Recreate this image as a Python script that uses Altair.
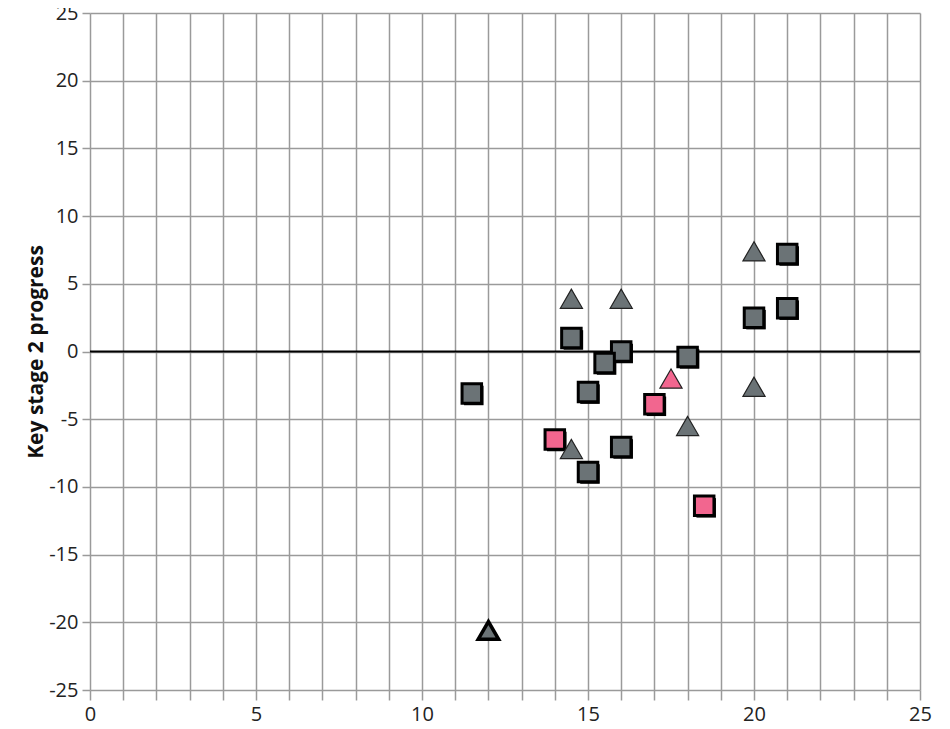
import altair as alt
import pandas as pd

# gray squares
sq_gray_x = [11.5, 14.5, 16.0, 15.5, 15.0, 15.0, 16.0, 18.0, 20.0, 21.0, 21.0]
sq_gray_y = [-3.1, 1.0, 0.0, -0.85, -3.0, -8.9, -7.05, -0.4, 2.5, 7.2, 3.2]
# pink squares
sq_pink_x = [14.0, 17.0, 18.5]
sq_pink_y = [-6.5, -3.9, -11.4]
# gray triangles
tri_gray_x = [14.5, 16.0, 20.0, 20.0, 18.0, 14.5]
tri_gray_y = [3.9, 3.9, 7.4, -2.6, -5.5, -7.2]
# highlighted triangle
tri_hl_x = [12.0]
tri_hl_y = [-20.6]
# pink triangle
tri_pink_x = [17.5]
tri_pink_y = [-2.0]

x_ticks = list(range(0, 26))
y_ticks = [-25, -20, -15, -10, -5, 0, 5, 10, 15, 20, 25]

GRAY = "#6b7376"
PINK = "#f2668f"
FONT = "Open Sans"

sq_gray = pd.DataFrame({"x": sq_gray_x, "y": sq_gray_y})
sq_pink = pd.DataFrame({"x": sq_pink_x, "y": sq_pink_y})
tri_gray = pd.DataFrame({"x": tri_gray_x, "y": tri_gray_y})
tri_hl = pd.DataFrame({"x": tri_hl_x, "y": tri_hl_y})
tri_pink = pd.DataFrame({"x": tri_pink_x, "y": tri_pink_y})

xs = alt.Scale(domain=[0, 25], nice=False, zero=False)
ys = alt.Scale(domain=[-25, 25], nice=False, zero=False)

x_axis = alt.Axis(values=x_ticks, grid=True, gridColor="#9a9a9a", gridWidth=1.5,
                  ticks=True, tickColor="#9a9a9a", tickWidth=1.5, tickSize=10,
                  domain=False, labelFont=FONT, labelFontSize=20, labelColor="#222",
                  labelPadding=4, labelFlush=False, labelOverlap=False,
                  labelExpr="datum.value % 5 == 0 ? '' + datum.value : ''")
y_axis = alt.Axis(values=y_ticks, grid=True, gridColor="#9a9a9a", gridWidth=1.5,
                  ticks=True, tickColor="#9a9a9a", tickWidth=1.5, tickSize=8,
                  domain=False, labelFont=FONT, labelFontSize=20, labelColor="#222",
                  labelPadding=4, labelFlush=False, labelOverlap=False,
                  labelExpr="'' + datum.value",
                  titleFont=FONT, titleFontSize=21, titleFontWeight="bold",
                  titleColor="#111", titlePadding=2)

X = alt.X("x:Q", scale=xs, title=None, axis=x_axis)
Y = alt.Y("y:Q", scale=ys, title="Key stage 2 progress", axis=y_axis)

base_grid = alt.Chart(sq_gray).mark_point(opacity=0).encode(x=X, y=Y)

zero = alt.Chart(pd.DataFrame({"y": [0]})).mark_rule(color="black", strokeWidth=2).encode(y=Y)

def squares(df, fill):
    shadow = alt.Chart(df).mark_point(shape="square", filled=True, size=380, color="black",
                                      opacity=1, xOffset=2, yOffset=2).encode(x=X, y=Y)
    main = alt.Chart(df).mark_point(shape="square", filled=True, size=380, fill=fill,
                                    stroke="black", strokeWidth=3, opacity=1).encode(x=X, y=Y)
    return shadow + main

def triangles(df, fill, sw, stroke, size=490):
    return alt.Chart(df).mark_point(shape="triangle-up", filled=True, size=size, fill=fill,
                                    stroke=stroke, strokeWidth=sw, opacity=1).encode(x=X, y=Y)

chart = alt.layer(
    base_grid,
    zero,
    squares(sq_gray, GRAY),
    squares(sq_pink, PINK),
    triangles(tri_gray, GRAY, 1.2, "#222"),
    triangles(tri_pink, PINK, 1.2, "#222"),
    triangles(tri_hl, GRAY, 3.5, "black", 420),
).properties(
    width=830, height=677,
    autosize=alt.AutoSizeParams(type="none"),
    padding={"left": 82, "top": 5, "right": 20, "bottom": 40},
).configure_view(stroke=None)

chart.save("out.html", embed_options={"renderer": "svg", "actions": False})
